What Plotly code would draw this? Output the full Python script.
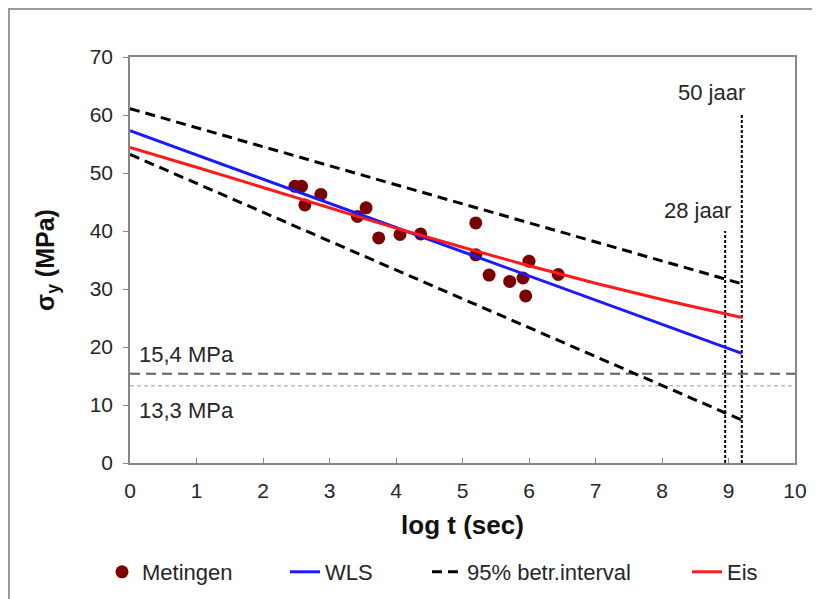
import plotly.graph_objects as go

# Measurements
meas_x = [2.48, 2.58, 2.63, 2.87, 3.42, 3.55, 3.74, 4.06, 4.37, 5.20, 5.20, 5.40, 5.71, 5.91, 6.00, 5.95, 6.44]
meas_y = [47.7, 47.7, 44.5, 46.3, 42.5, 44.0, 38.8, 39.4, 39.5, 41.4, 35.9, 32.4, 31.3, 31.9, 34.8, 28.8, 32.5]

# WLS fit
wls_x = [0, 9.2]
wls_y = [57.3, 18.9]

# 95% interval
ci_up_x = [0, 9.2]
ci_up_y = [61.1, 30.9]
ci_lo_x = [0, 9.2]
ci_lo_y = [53.2, 7.4]

# Eis curve
eis_x = [0, 1, 2, 3, 4, 5, 6, 7, 8, 9, 9.2]
eis_y = [54.4, 51.0, 47.5, 44.0, 40.5, 37.2, 34.0, 31.0, 28.2, 25.6, 25.1]

# Reference levels
lvl_hi = 15.4
lvl_lo = 13.3
t28_x = 8.95
t28_top = 40
t50_x = 9.2
t50_top = 60

FONT = "Liberation Sans, Arial, sans-serif"
TXT = "#262626"

W, H = 812, 591
ML, MR, MT, MB = 122, 25, 49, 136
PW = W - ML - MR
PH = H - MT - MB

fig = go.Figure()

# reference lines (no legend)
fig.add_trace(go.Scatter(x=[0, 10], y=[lvl_hi, lvl_hi], mode="lines", showlegend=False,
                         line=dict(color="#5f5f5f", width=2, dash="10px,6px"), hoverinfo="skip"))
fig.add_trace(go.Scatter(x=[0, 10], y=[lvl_lo, lvl_lo], mode="lines", showlegend=False,
                         line=dict(color="#9a9a9a", width=1, dash="4px,3px"), hoverinfo="skip"))
fig.add_trace(go.Scatter(x=[t28_x, t28_x], y=[0, t28_top], mode="lines", showlegend=False,
                         line=dict(color="black", width=2, dash="3px,2px"), hoverinfo="skip"))
fig.add_trace(go.Scatter(x=[t50_x, t50_x], y=[0, t50_top], mode="lines", showlegend=False,
                         line=dict(color="black", width=2, dash="3px,2px"), hoverinfo="skip"))

fig.add_trace(go.Scatter(x=meas_x, y=meas_y, mode="markers", name="Metingen", legend="legend",
                         marker=dict(color="#7a0000", size=13)))
fig.add_trace(go.Scatter(x=wls_x, y=wls_y, mode="lines", name="WLS", legend="legend2",
                         line=dict(color="#1a1aff", width=3)))
fig.add_trace(go.Scatter(x=ci_up_x, y=ci_up_y, mode="lines", name="95% betr.interval", legend="legend3",
                         line=dict(color="black", width=3, dash="10px,6px")))
fig.add_trace(go.Scatter(x=ci_lo_x, y=ci_lo_y, mode="lines", name="95% betr.interval", showlegend=False,
                         line=dict(color="black", width=3, dash="10px,6px")))
fig.add_trace(go.Scatter(x=eis_x, y=eis_y, mode="lines", name="Eis", legend="legend4",
                         line=dict(color="#ff1a1a", width=3, shape="spline")))

ann_font = dict(family=FONT, size=22, color=TXT)
fig.add_annotation(x=0.1, y=18.7, text="15,4 MPa", showarrow=False, xanchor="left", font=ann_font)
fig.add_annotation(x=0.1, y=9.1, text="13,3 MPa", showarrow=False, xanchor="left", font=ann_font)
fig.add_annotation(x=8.53, y=43.5, text="28 jaar", showarrow=False, font=ann_font)
fig.add_annotation(x=8.75, y=63.9, text="50 jaar", showarrow=False, font=ann_font)

# outer chart border
fig.add_shape(type="rect", xref="paper", yref="paper",
              x0=(1 - ML) / PW, x1=1.1, y0=-0.6, y1=(PH + MT - 1) / PH,
              line=dict(color="#9a9a9a", width=2), layer="below")

axis_common = dict(showline=True, linecolor="#868686", linewidth=1.5, mirror=True, showgrid=False,
                   zeroline=False, tickcolor="#868686", ticklen=5, automargin=False,
                   tickfont=dict(family=FONT, size=21, color=TXT))

fig.update_xaxes(range=[0, 10], tickvals=list(range(0, 11)), ticks="inside", ticklabelstandoff=8,
                 title=dict(text="<b>log t (sec)</b>", font=dict(family=FONT, size=26, color="#111111"), standoff=15),
                 **axis_common)
fig.update_yaxes(range=[0, 70], tickvals=list(range(0, 71, 10)), ticks="outside", ticklabelstandoff=6,
                 title=dict(text="<b>σ<sub>y</sub> (MPa)</b>", font=dict(family=FONT, size=25, color="#111111"), standoff=28),
                 **axis_common)

leg_font = dict(family=FONT, size=22, color=TXT)
ly = (MT + PH - (572 - 8)) / PH


def leg(fig_px):
    return dict(orientation="h", x=(fig_px - ML) / PW, xanchor="left", y=ly, yanchor="middle",
                font=leg_font, bgcolor="rgba(0,0,0,0)", borderwidth=0)


fig.update_layout(
    width=W, height=H,
    margin=dict(l=ML, r=MR, t=MT, b=MB, autoexpand=False),
    paper_bgcolor="white", plot_bgcolor="white",
    font=dict(family=FONT, size=21, color=TXT),
    legend=leg(94),
    legend2=leg(277),
    legend3=leg(419),
    legend4=leg(679),
    showlegend=True,
)

fig.write_html("out.html")
